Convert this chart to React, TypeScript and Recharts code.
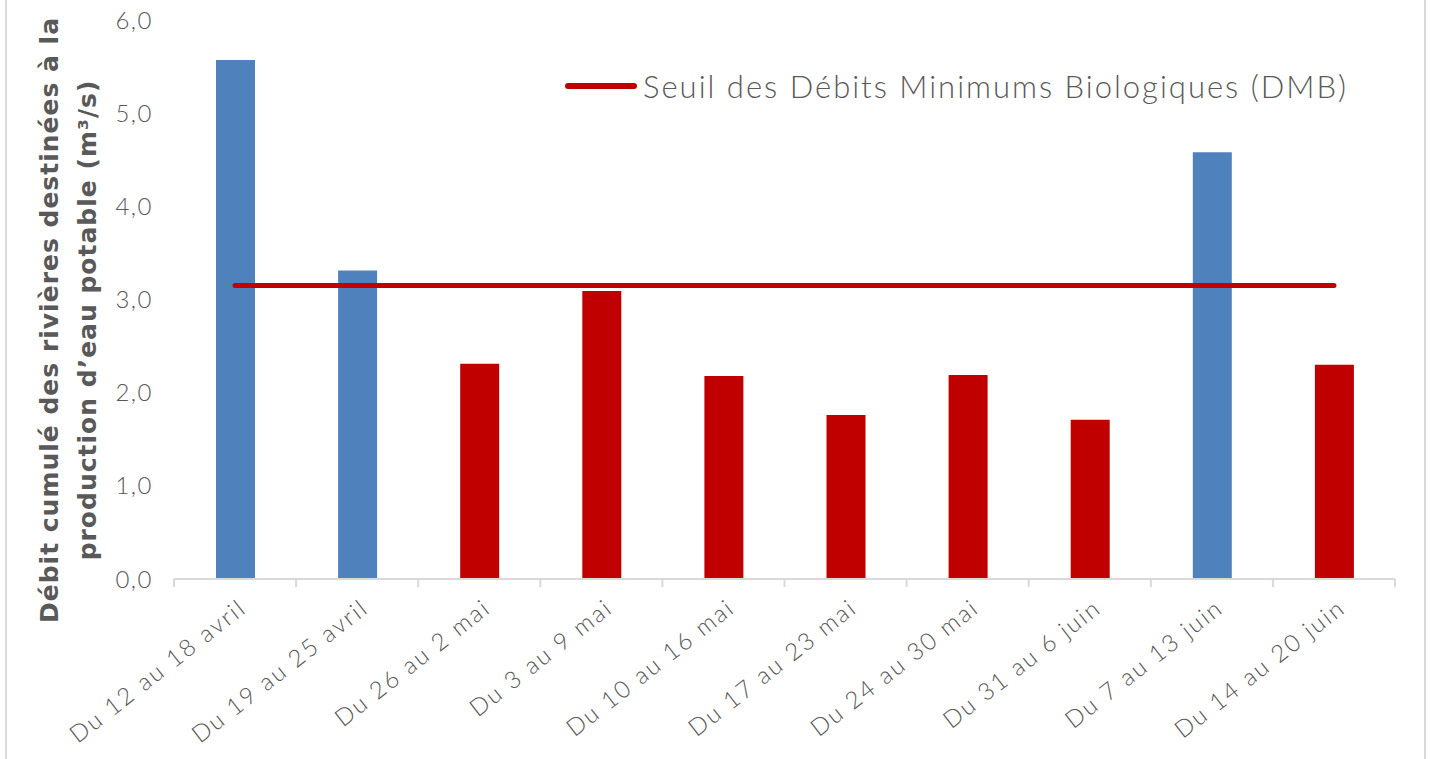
import React from "react";
import { ComposedChart, Bar, Line, XAxis, YAxis, Legend, Cell } from "recharts";

const categories = [
  "Du 12 au 18 avril",
  "Du 19 au 25 avril",
  "Du 26 au 2 mai",
  "Du 3 au 9 mai",
  "Du 10 au 16 mai",
  "Du 17 au 23 mai",
  "Du 24 au 30 mai",
  "Du 31 au 6 juin",
  "Du 7 au 13 juin",
  "Du 14 au 20 juin",
];
const debits = [5.57, 3.31, 2.31, 3.09, 2.18, 1.76, 2.19, 1.71, 4.58, 2.3];
const seuilDMB = [3.15, 3.15, 3.15, 3.15, 3.15, 3.15, 3.15, 3.15, 3.15, 3.15];
const yTicks = [0, 1, 2, 3, 4, 5, 6];

const legendLabel = "Seuil des Débits Minimums Biologiques (DMB)";
const yTitle1 = "Débit cumulé des rivières destinées à la";
const yTitle2 = "production d’eau potable (m³/s)";

const BLUE = "#4F81BD";
const RED = "#C00000";
const GRAY = "#595959";
const LIGHT = "#D9D9D9";
const THIN_FONT = "Lato, 'Open Sans', sans-serif";

const data = categories.map((c, i) => ({ name: c, debit: debits[i], seuil: seuilDMB[i] }));

function XTick(props: any) {
  const { x, y, payload, index } = props;
  const half = payload && payload.offset ? payload.offset : 61;
  const isLast = index === categories.length - 1;
  const tx = x + 13;
  const ty = y + 32;
  return (
    <g>
      <line x1={x - half} y1={y} x2={x - half} y2={y + 8} stroke={LIGHT} strokeWidth={2} />
      {isLast && <line x1={x + half} y1={y} x2={x + half} y2={y + 8} stroke={LIGHT} strokeWidth={2} />}
      <text
        x={tx}
        y={ty}
        transform={`rotate(-38, ${tx}, ${ty})`}
        textAnchor="end"
        fill={GRAY}
        fontFamily={THIN_FONT}
        fontWeight={300}
        fontSize={24}
        letterSpacing={2.1}
      >
        {payload.value}
      </text>
    </g>
  );
}

function YTitle() {
  const cy = 320;
  const common = {
    textAnchor: "middle" as const,
    fill: GRAY,
    fontFamily: "'DejaVu Sans', sans-serif",
    fontWeight: 700,
    fontSize: 25,
    letterSpacing: 1,
  };
  return (
    <g>
      <text transform={`translate(58, ${cy}) rotate(-90)`} {...common}>
        {yTitle1}
      </text>
      <text transform={`translate(96, ${cy}) rotate(-90)`} {...common}>
        {yTitle2}
      </text>
    </g>
  );
}

function LegendContent() {
  return (
    <div style={{ display: "flex", alignItems: "center" }}>
      <svg width={74} height={12} style={{ display: "block" }}>
        <line x1={4} y1={6} x2={70} y2={6} stroke={RED} strokeWidth={6} strokeLinecap="round" />
      </svg>
      <span
        style={{
          fontFamily: THIN_FONT,
          fontWeight: 300,
          fontSize: 31,
          letterSpacing: 2,
          color: GRAY,
          marginLeft: 5,
          lineHeight: "36px",
          whiteSpace: "nowrap",
        }}
      >
        {legendLabel}
      </span>
    </div>
  );
}

export default function App() {
  return (
    <div style={{ position: "absolute", left: 0, top: 0, width: 1430, height: 759, background: "#fff" }}>
      <div
        style={{
          position: "absolute",
          left: 5,
          top: 0,
          width: 1417,
          height: 759,
          borderLeft: `2px solid ${LIGHT}`,
          borderRight: `2px solid ${LIGHT}`,
        }}
      />
      <ComposedChart
        width={1430}
        height={759}
        data={data}
        margin={{ top: 20, right: 35, bottom: 0, left: 0 }}
        style={{ position: "absolute", left: 0, top: 0 }}
      >
        <XAxis
          dataKey="name"
          height={180}
          interval={0}
          axisLine={{ stroke: LIGHT, strokeWidth: 2 }}
          tickLine={false}
          tickSize={0}
          tickMargin={0}
          tick={<XTick />}
        />
        <YAxis
          width={174}
          domain={[0, 6]}
          ticks={yTicks}
          axisLine={false}
          tickLine={false}
          tickMargin={15}
          tickFormatter={(v: number) => v.toFixed(1).replace(".", ",")}
          tick={{ fill: GRAY, fontFamily: THIN_FONT, fontWeight: 300, fontSize: 24, letterSpacing: 1.5 }}
          label={{ content: () => <YTitle /> }}
        />
        <Legend
          verticalAlign="middle"
          align="center"
          layout="horizontal"
          content={() => <LegendContent />}
          wrapperStyle={{ position: "absolute", top: 68, left: 564, width: "auto", height: "auto" }}
        />
        <Bar dataKey="debit" barSize={39} isAnimationActive={false}>
          {data.map((d, i) => (
            <Cell key={i} fill={d.debit > d.seuil ? BLUE : RED} />
          ))}
        </Bar>
        <Line
          dataKey="seuil"
          type="linear"
          stroke={RED}
          strokeWidth={5}
          strokeLinecap="round"
          dot={false}
          activeDot={false}
          legendType="line"
          isAnimationActive={false}
        />
      </ComposedChart>
    </div>
  );
}
